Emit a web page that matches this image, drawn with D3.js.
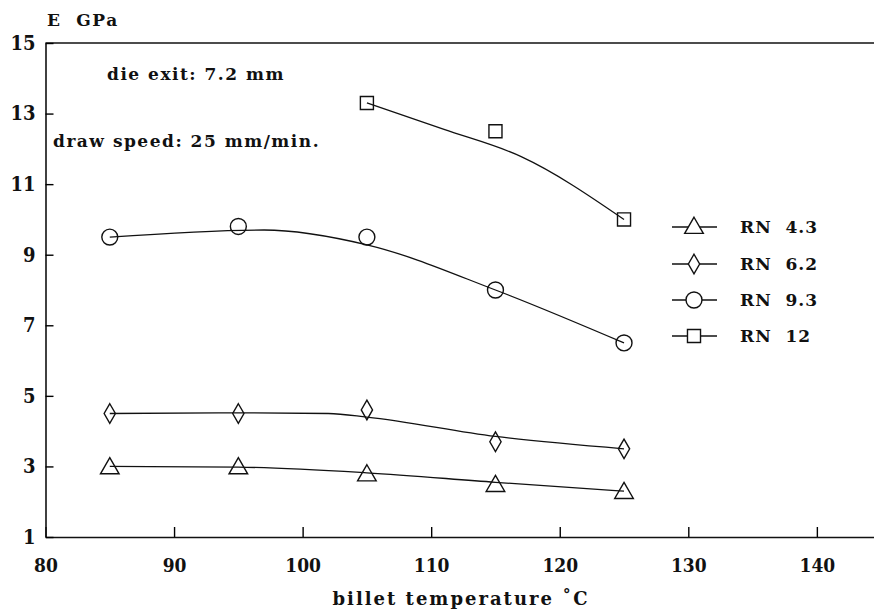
<!DOCTYPE html>
<html>
<head>
<meta charset="utf-8">
<script src="https://cdn.jsdelivr.net/npm/d3@7"></script>
<style>
  body { margin: 0; background: #fff; }
  text { font-family: "DejaVu Serif", serif; font-weight: bold; fill: #111; }
</style>
</head>
<body>
<svg id="chart" width="874" height="612"></svg>
<script>
// data
var temps = [85, 95, 105, 115, 125];
var series = ["RN 4.3", "RN 6.2", "RN 9.3", "RN 12"];
var rn43 = [3.0, 3.0, 2.8, 2.5, 2.3];
var rn62 = [4.5, 4.5, 4.6, 3.7, 3.5];
var rn93 = [9.5, 9.8, 9.5, 8.0, 6.5];
var rn12 = [null, null, 13.3, 12.5, 10.0];

// drawn fit curves (as they appear in the figure)
var fit43 = [[85, 3.0], [95, 2.98], [105, 2.82], [115, 2.55], [125, 2.3]];
var fit62 = [[85, 4.5], [95, 4.52], [102, 4.5], [105, 4.4], [115, 3.85], [125, 3.5]];
var fit93 = [[85, 9.5], [97, 9.7], [105, 9.28], [115, 8.0], [125, 6.5]];
var fit12 = [[105, 13.3], [111, 12.55], [117, 11.78], [125, 10.0]];

var xTicks = [80, 90, 100, 110, 120, 130, 140];
var yTicks = [1, 3, 5, 7, 9, 11, 13, 15];

var svg = d3.select("svg#chart");

var x = d3.scaleLinear().domain([80, 144.6]).range([45.5, 876]);
var y = d3.scaleLinear().domain([1, 15]).range([537, 43]);

// top line of the frame
svg.append("line")
   .attr("x1", x(80)).attr("x2", 874)
   .attr("y1", y(15)).attr("y2", y(15))
   .attr("stroke", "#111").attr("stroke-width", 1.6);

var xAxis = svg.append("g")
   .attr("transform", "translate(0," + y(1) + ")")
   .call(d3.axisBottom(x).tickValues(xTicks).tickSizeInner(-10).tickSizeOuter(0).tickPadding(22));
xAxis.select(".domain").attr("stroke", "#111").attr("stroke-width", 1.6);
xAxis.selectAll("line").attr("stroke-width", 1.4);
xAxis.selectAll("text").attr("font-size", 19)
     .style("font-family", "'DejaVu Serif Condensed', 'DejaVu Serif'").style("font-weight", "bold");

var yAxis = svg.append("g")
   .attr("transform", "translate(" + x(80) + ",0)")
   .call(d3.axisLeft(y).tickValues(yTicks).tickSizeInner(-8).tickSizeOuter(0).tickPadding(10));
yAxis.select(".domain").attr("stroke", "#111").attr("stroke-width", 1.6);
yAxis.selectAll("line").attr("stroke-width", 1.4);
yAxis.selectAll("text").attr("font-size", 20)
     .style("font-family", "'DejaVu Serif Condensed', 'DejaVu Serif'").style("font-weight", "bold");

// titles
svg.append("text").attr("x", 47).attr("y", 26).attr("font-size", 17)
   .style("letter-spacing", "1.5px").attr("xml:space", "preserve").text("E  GPa");
svg.append("text").attr("x", 461).attr("y", 605).attr("font-size", 18)
   .attr("text-anchor", "middle").style("letter-spacing", "2px").text("billet temperature \u02daC");

// annotations
svg.append("text").attr("x", 107).attr("y", 80).attr("font-size", 17)
   .style("letter-spacing", "1.5px").text("die exit: 7.2 mm");
svg.append("text").attr("x", 53).attr("y", 147).attr("font-size", 17)
   .style("letter-spacing", "1.5px").text("draw speed: 25 mm/min.");

// fit lines
var line = d3.line()
   .x(function(d) { return x(d[0]); })
   .y(function(d) { return y(d[1]); })
   .curve(d3.curveMonotoneX);

svg.selectAll("path.fit")
   .data([fit43, fit62, fit93, fit12])
   .enter().append("path")
   .attr("class", "fit")
   .attr("d", line)
   .attr("fill", "none")
   .attr("stroke", "#111")
   .attr("stroke-width", 1.3);

// markers
var shapes = [
  d3.symbol().type(d3.symbolTriangle).size(150),
  d3.symbol().type(d3.symbolDiamond).size(110),
  d3.symbol().type(d3.symbolCircle).size(200),
  d3.symbol().type(d3.symbolSquare).size(170)
];
var allVals = [rn43, rn62, rn93, rn12];

allVals.forEach(function(vals, i) {
  var pts = temps.map(function(t, j) { return [t, vals[j]]; })
                 .filter(function(d) { return d[1] != null; });
  svg.selectAll("path.m" + i)
     .data(pts)
     .enter().append("path")
     .attr("class", "m" + i)
     .attr("transform", function(d) {
        return "translate(" + x(d[0]) + "," + (y(d[1]) + (i == 0 ? 2 : 0)) + ")";
     })
     .attr("d", shapes[i])
     .attr("fill", "none")
     .attr("stroke", "#111")
     .attr("stroke-width", 1.4);
});

// legend
var legY = [227, 264, 300, 336];
series.forEach(function(name, i) {
  var g = svg.append("g").attr("transform", "translate(0," + legY[i] + ")");
  g.append("line").attr("x1", 672).attr("x2", 717).attr("y1", 0).attr("y2", 0)
   .attr("stroke", "#111").attr("stroke-width", 1.3);
  g.append("path").attr("transform", "translate(694," + (i == 0 ? 1 : 0) + ")")
   .attr("d", shapes[i]).attr("fill", "#fff")
   .attr("stroke", "#111").attr("stroke-width", 1.4);
  g.append("text").attr("x", 740).attr("y", 6).attr("font-size", 17)
   .style("letter-spacing", "1px").attr("xml:space", "preserve")
   .text(name.replace(" ", "  "));
});
</script>
</body>
</html>
